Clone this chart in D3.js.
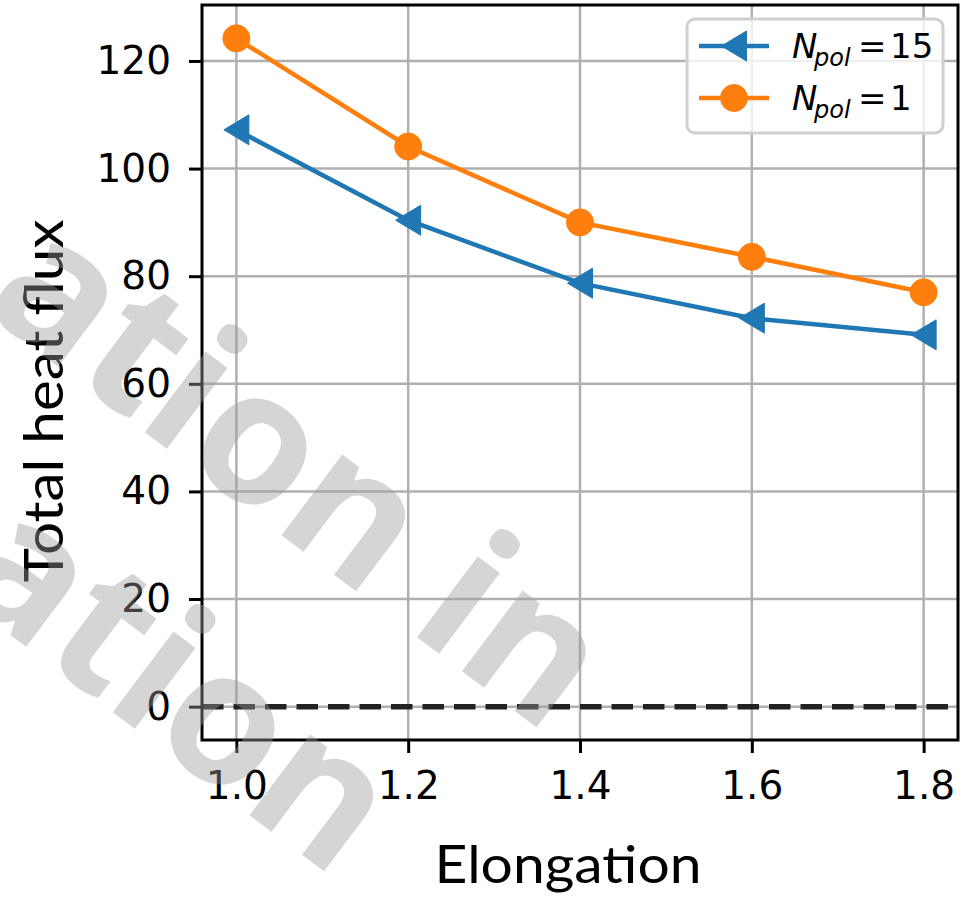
<!doctype html>
<html>
  <head>
    <script src="https://cdnjs.cloudflare.com/ajax/libs/d3/7.8.5/d3.min.js"></script>
    <style>
      body { margin: 0; background: #fff; }
      svg { display: block; }
      .tick text { font-family: 'DejaVu Sans', sans-serif; }
    </style>
  </head>
  <body>
    <svg id="chart" width="968" height="908"></svg>
    <script>
        // values
        var elongation = [1.0, 1.2, 1.4, 1.6, 1.8];
        var fluxPol15 = [107.2, 90.4, 78.7, 72.2, 69.1];
        var fluxPol1 = [124.2, 104.1, 90.0, 83.6, 77.0];
        var xTicks = [1.0, 1.2, 1.4, 1.6, 1.8];
        var yTicks = [0, 20, 40, 60, 80, 100, 120];
        var seriesNames = ["15", "1"];
        var watermarkLines = ["ation in", "ation"];

        var plotLeft = 202, plotRight = 958, plotTop = 5, plotBottom = 740;

        var svg = d3.select("#chart");

        var xScale = d3.scaleLinear().domain([0.96, 1.84]).range([plotLeft, plotRight]);
        var yScale = d3.scaleLinear().domain([-6.2, 130.4]).range([plotBottom, plotTop]);

        // grid
        var grid = svg.append("g").attr("stroke", "#b0b0b0").attr("stroke-width", 2.5);
        grid.selectAll(".gx").data(xTicks).enter().append("line")
            .attr("x1", d => xScale(d)).attr("x2", d => xScale(d))
            .attr("y1", plotTop).attr("y2", plotBottom);
        grid.selectAll(".gy").data(yTicks).enter().append("line")
            .attr("x1", plotLeft).attr("x2", plotRight)
            .attr("y1", d => yScale(d)).attr("y2", d => yScale(d));

        // dashed zero line
        svg.append("line")
            .attr("x1", plotLeft).attr("x2", plotRight)
            .attr("y1", yScale(0)).attr("y2", yScale(0))
            .attr("stroke", "#222").attr("stroke-width", 5.5)
            .attr("stroke-dasharray", "21.5,10");

        var line = d3.line().x((d, i) => xScale(elongation[i])).y(d => yScale(d));

        // N_pol = 15 (blue, left triangles)
        svg.append("path").datum(fluxPol15)
            .attr("d", line).attr("fill", "none")
            .attr("stroke", "#1f77b4").attr("stroke-width", 4.5);
        var tri = "M-12.5,0L12.5,-15L12.5,15Z";
        svg.selectAll(".tri").data(fluxPol15).enter().append("path")
            .attr("d", tri)
            .attr("transform", (d, i) => "translate(" + xScale(elongation[i]) + "," + yScale(d) + ")")
            .attr("fill", "#1f77b4").attr("stroke", "#1f77b4").attr("stroke-width", 1);

        // N_pol = 1 (orange, circles)
        svg.append("path").datum(fluxPol1)
            .attr("d", line).attr("fill", "none")
            .attr("stroke", "#ff7f0e").attr("stroke-width", 4.5);
        svg.selectAll(".dot").data(fluxPol1).enter().append("circle")
            .attr("cx", (d, i) => xScale(elongation[i]))
            .attr("cy", d => yScale(d))
            .attr("r", 13.5)
            .attr("fill", "#ff7f0e").attr("stroke", "#ff7f0e").attr("stroke-width", 1);

        // spines
        svg.append("rect")
            .attr("x", plotLeft).attr("y", plotTop)
            .attr("width", plotRight - plotLeft).attr("height", plotBottom - plotTop)
            .attr("fill", "none").attr("stroke", "#000").attr("stroke-width", 3);

        // axes
        var xAxis = d3.axisBottom(xScale).tickValues(xTicks)
            .tickFormat(d3.format(".1f")).tickSize(13).tickPadding(18);
        var gx = svg.append("g").attr("transform", "translate(0," + plotBottom + ")").call(xAxis);
        var yAxis = d3.axisLeft(yScale).tickValues(yTicks).tickSize(13).tickPadding(18);
        var gy = svg.append("g").attr("transform", "translate(" + plotLeft + ",0)").call(yAxis);

        [gx, gy].forEach(function(g) {
            g.attr("font-family", "'DejaVu Sans', sans-serif").attr("font-size", 39);
            g.select(".domain").remove();
            g.selectAll(".tick line").attr("stroke", "#000").attr("stroke-width", 3);
            g.selectAll(".tick text").attr("fill", "#000");
        });

        // axis titles
        svg.append("text")
            .attr("x", 568).attr("y", 883)
            .attr("text-anchor", "middle")
            .attr("textLength", 267).attr("lengthAdjust", "spacingAndGlyphs")
            .style("font-family", "Lato").style("font-size", "53px")
            .text("Elongation");
        svg.append("text")
            .attr("transform", "translate(63,401) rotate(-90)")
            .attr("text-anchor", "middle")
            .attr("textLength", 363).attr("lengthAdjust", "spacingAndGlyphs")
            .style("font-family", "Lato").style("font-size", "55px")
            .text("Total heat flux");

        // legend
        var legend = svg.append("g");
        legend.append("rect")
            .attr("x", 687).attr("y", 19).attr("width", 256).attr("height", 114)
            .attr("rx", 8)
            .attr("fill", "#fff").attr("fill-opacity", 0.8)
            .attr("stroke", "#d0d0d0").attr("stroke-width", 3);

        var rows = [
            {name: seriesNames[0], color: "#1f77b4", marker: "tri", y: 46},
            {name: seriesNames[1], color: "#ff7f0e", marker: "dot", y: 98}
        ];
        rows.forEach(function(r) {
            legend.append("line")
                .attr("x1", 699).attr("x2", 769).attr("y1", r.y).attr("y2", r.y)
                .attr("stroke", r.color).attr("stroke-width", 4.5);
            if (r.marker === "tri") {
                legend.append("path").attr("d", tri)
                    .attr("transform", "translate(734," + r.y + ")")
                    .attr("fill", r.color).attr("stroke", r.color).attr("stroke-width", 1);
            } else {
                legend.append("circle").attr("cx", 734).attr("cy", r.y).attr("r", 13.5)
                    .attr("fill", r.color).attr("stroke", r.color).attr("stroke-width", 1);
            }
            var t = legend.append("text")
                .attr("y", r.y + 12)
                .style("font-family", "'DejaVu Sans', sans-serif").style("font-size", "34px")
                .attr("fill", "#000");
            t.append("tspan").attr("x", 792).style("font-style", "italic").text("N");
            t.append("tspan").attr("x", 814).attr("dy", 8)
                .style("font-style", "italic").style("font-size", "24px").text("pol");
            t.append("tspan").attr("x", 858).attr("dy", -8).text("=");
            t.append("tspan").attr("x", 890).text(r.name);
        });

        // watermark overlay
        var wm = svg.append("g")
            .attr("fill", "#9a9a9a").attr("fill-opacity", 0.42)
            .style("font-family", "'Open Sans', sans-serif").style("font-weight", 700)
            .style("font-size", "185px");
        wm.append("text").attr("transform", "translate(-20,308) rotate(37)").text(watermarkLines[0]);
        wm.append("text").attr("transform", "translate(-52,588) rotate(37)").text(watermarkLines[1]);
    </script>
  </body>
</html>
